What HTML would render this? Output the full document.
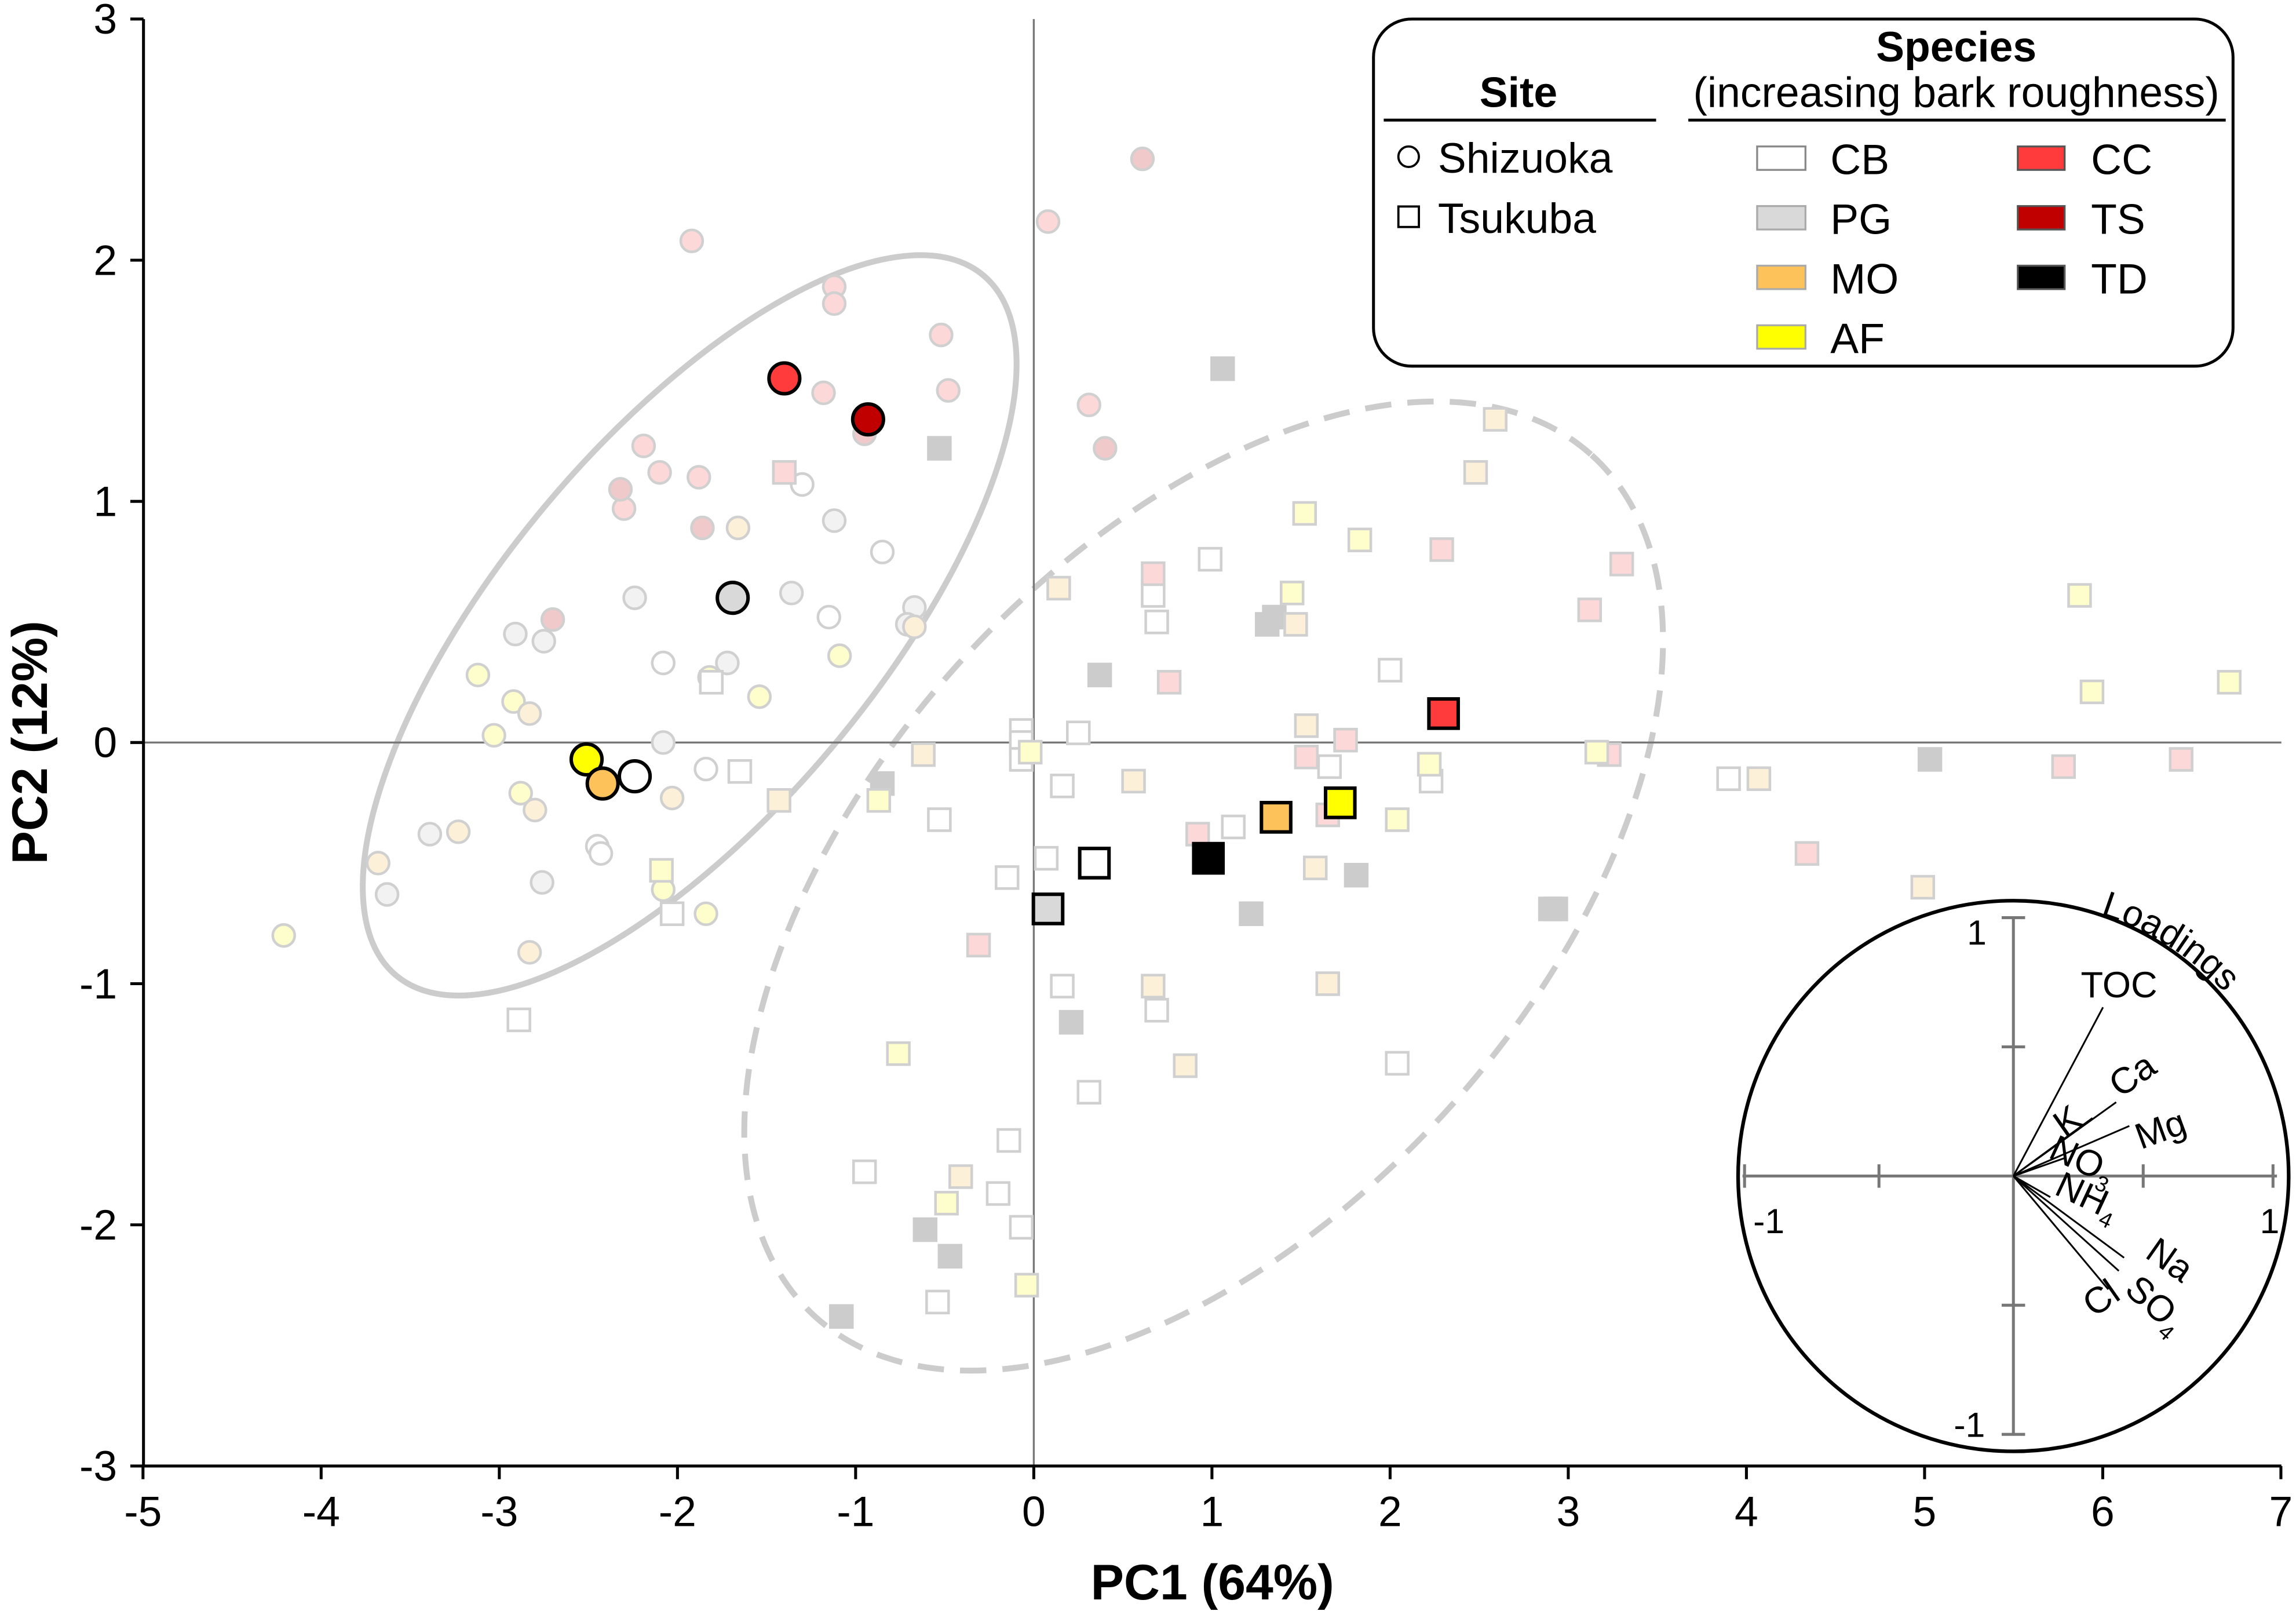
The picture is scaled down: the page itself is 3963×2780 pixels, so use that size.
<!DOCTYPE html>
<html><head><meta charset="utf-8"><style>
html,body{margin:0;padding:0;background:#fff}
svg{display:block;font-family:"Liberation Sans","DejaVu Sans",sans-serif}
</style></head><body>
<svg id="chart" width="3963" height="2780" viewBox="0 0 1568 1100" preserveAspectRatio="none" xmlns="http://www.w3.org/2000/svg">
<g id="bg"></g>
</svg>
<script>
const xTicks=[-5,-4,-3,-2,-1,0,1,2,3,4,5,6,7];
const yTicks=[-3,-2,-1,0,1,2,3];
// Shizuoka (circles) faded points: species, PC1, PC2
const circSpecies=["CC","CC","CC","CC","CC","CC","CC","CC","CC","CC","CC","CC",
"TS","TS","TS","TS","TS","TS",
"CB","PG","CB","PG","CB","PG","PG","PG","PG","CB","PG","PG","CB","PG","PG","PG","PG","CB","CB",
"AF","AF","AF","AF","AF","AF","AF","AF","AF","AF",
"MO","MO","MO","MO","MO","MO","MO","MO"];
const circX=[-1.92,-1.12,-1.12,-0.52,-0.48,-1.18,-2.19,-2.1,-1.88,-2.3,0.08,0.31,
0.61,0.4,-2.32,-1.86,-2.7,-0.95,
-1.3,-1.12,-0.85,-1.36,-1.15,-2.24,-2.91,-2.75,-1.72,-2.08,-0.67,-0.71,-1.84,-2.08,-3.39,-3.63,-2.76,-2.45,-2.43,
-3.12,-2.92,-3.03,-2.88,-1.82,-1.54,-1.09,-2.08,-1.84,-4.21,
-1.66,-2.83,-2.8,-3.23,-3.68,-2.03,-2.83,-0.67];
const circY=[2.08,1.89,1.82,1.69,1.46,1.45,1.23,1.12,1.1,0.97,2.16,1.4,
2.42,1.22,1.05,0.89,0.51,1.28,
1.07,0.92,0.79,0.62,0.52,0.6,0.45,0.42,0.33,0.33,0.56,0.49,-0.11,0.0,-0.38,-0.63,-0.58,-0.43,-0.46,
0.28,0.17,0.03,-0.21,0.27,0.19,0.36,-0.61,-0.71,-0.8,
0.89,0.12,-0.28,-0.37,-0.5,-0.23,-0.87,0.48];
// Tsukuba (squares) faded points
const sqSpecies=["PG","PG","PG","PG","PG","PG","PG","PG","PG","PG","PG","PG","PG","PG","PG",
"CB","CB","CB","CB","CB","CB","CB","CB","CB","CB","CB","CB","CB","CB","CB","CB","CB","CB","CB","CB","CB","CB","CB","CB","CB","CB","CB","CB","CB",
"CC","CC","CC","CC","CC","CC","CC","CC","CC","CC","CC","CC","CC","CC","CC",
"AF","AF","AF","AF","AF","AF","AF","AF","AF","AF","AF","AF","AF","AF","AF",
"MO","MO","MO","MO","MO","MO","MO","MO","MO","MO","MO","MO","MO","MO","MO"];
const sqX=[-0.53,1.06,1.31,1.35,0.37,-0.85,5.03,2.93,2.9,1.81,1.22,0.21,-0.61,-0.47,-1.08,
0.67,0.69,0.99,2.0,-0.07,-0.07,0.25,-0.07,1.66,2.23,-1.65,-0.53,0.16,0.07,1.12,-0.15,-1.81,-2.03,0.16,0.69,2.04,0.31,-2.89,-0.14,-0.2,-0.07,-0.95,-0.54,3.9,
-1.4,0.67,0.76,2.29,3.12,3.3,1.53,1.75,1.65,3.23,4.34,5.78,6.44,-0.31,0.92,
1.52,1.83,1.45,5.87,5.94,6.71,-0.02,-0.87,2.04,2.22,3.16,-2.09,-0.76,-0.49,-0.04,
2.59,2.48,0.14,1.47,1.53,-0.62,-1.43,0.56,1.58,1.65,0.67,0.85,-0.41,4.07,4.99];
const sqY=[1.22,1.55,0.49,0.52,0.28,-0.17,-0.07,-0.69,-0.69,-0.55,-0.71,-1.16,-2.02,-2.13,-2.38,
0.61,0.5,0.76,0.3,0.05,0.0,0.04,-0.07,-0.1,-0.16,-0.12,-0.32,-0.18,-0.48,-0.35,-0.56,0.25,-0.71,-1.01,-1.11,-1.33,-1.45,-1.15,-1.65,-1.87,-2.01,-1.78,-2.32,-0.15,
1.12,0.7,0.25,0.8,0.55,0.74,-0.06,0.01,-0.3,-0.05,-0.46,-0.1,-0.07,-0.84,-0.38,
0.95,0.84,0.62,0.61,0.21,0.25,-0.04,-0.24,-0.32,-0.09,-0.04,-0.53,-1.29,-1.91,-2.25,
1.34,1.12,0.64,0.49,0.07,-0.05,-0.24,-0.16,-0.52,-1.0,-1.01,-1.34,-1.8,-0.15,-0.6];
// Highlighted means
const meanCircSpecies=["PG","CB","AF","MO","CC","TS"];
const meanCircX=[-1.69,-2.24,-2.51,-2.42,-1.4,-0.93];
const meanCircY=[0.6,-0.14,-0.07,-0.17,1.51,1.34];
const meanSqSpecies=["PG","CB","TD","MO","AF","CC"];
const meanSqX=[0.08,0.34,0.98,1.36,1.72,2.3];
const meanSqY=[-0.69,-0.5,-0.48,-0.31,-0.25,0.12];
// Loadings
const loadNames=["TOC","Ca","K","Mg","NO3","NH4","Na","SO4","Cl"];
const loadX=[0.34,0.39,0.30,0.44,0.20,0.14,0.42,0.40,0.36];
const loadY=[0.64,0.28,0.22,0.19,0.07,-0.08,-0.31,-0.36,-0.43];

const full={CB:"#ffffff",PG:"#d9d9d9",MO:"#fdc35a",AF:"#ffff00",CC:"#ff3b3b",TS:"#c00000",TD:"#000000"};
const faded={CB:"#ffffff",PG:"#f2f2f2",MO:"#fdf0d9",AF:"#fefdcc",CC:"#fdd8d8",TS:"#f0caca",TD:"#cccccc"};
const fadedSq={CB:"#ffffff",PG:"#cccccc",MO:"#fdf0d9",AF:"#fefdcc",CC:"#fdd8d8",TS:"#f0caca",TD:"#cccccc"};

const NS="http://www.w3.org/2000/svg";
const svg=document.getElementById('chart');
const X=v=>706+v*121.67;
const Y=v=>507-v*164.67;
function mk(tag,attrs,parent){const e=document.createElementNS(NS,tag);for(const k in attrs)e.setAttribute(k,attrs[k]);(parent||svg).appendChild(e);return e;}
function txt(s,attrs,parent){const e=mk('text',attrs,parent);e.textContent=s;return e;}

// ellipses
let el=mk('ellipse',{cx:471,cy:427,rx:312,ry:128,transform:'rotate(-50 471 427)',fill:'none',stroke:'#cccccc','stroke-width':4});


el=mk('ellipse',{cx:822,cy:605,rx:396,ry:226,transform:'rotate(-48 822 605)',fill:'none',stroke:'#cccccc','stroke-width':4,'stroke-dasharray':'18 11'});



// zero lines
el=mk('line',{x1:X(0),y1:13,x2:X(0),y2:1001,stroke:'#777','stroke-width':1.3});


el=mk('line',{x1:98,y1:Y(0),x2:1558,y2:Y(0),stroke:'#777','stroke-width':1.3});



// faded points
circX.forEach((v,i)=>{const c=mk('circle',{cx:X(v),cy:Y(circY[i]),r:7.5,fill:faded[circSpecies[i]],stroke:'#d0d0d0','stroke-width':1.8});

});
sqX.forEach((v,i)=>{const s=15;const r=mk('rect',{x:X(v)-s/2,y:Y(sqY[i])-s/2,width:s,height:s,fill:fadedSq[sqSpecies[i]],stroke:sqSpecies[i]==='PG'?'#cccccc':'#d0d0d0','stroke-width':1.8});

});
// means
meanSqX.forEach((v,i)=>{const s=20;const r=mk('rect',{x:X(v)-s/2,y:Y(meanSqY[i])-s/2,width:s,height:s,fill:full[meanSqSpecies[i]],stroke:'#000','stroke-width':2.4});

});
meanCircX.forEach((v,i)=>{const c=mk('circle',{cx:X(v),cy:Y(meanCircY[i]),r:10.5,fill:full[meanCircSpecies[i]],stroke:'#000','stroke-width':2.4});

});

// axes
el=mk('line',{x1:98,y1:13,x2:98,y2:1001,stroke:'#000','stroke-width':2});


el=mk('line',{x1:97,y1:1001,x2:1558,y2:1001,stroke:'#000','stroke-width':2});


xTicks.forEach(t=>{mk('line',{x1:X(t),y1:1001,x2:X(t),y2:1010,stroke:'#000','stroke-width':2});
const l=txt(String(t),{x:X(t),y:1042,'font-size':29,'text-anchor':'middle'});

});
yTicks.forEach(t=>{mk('line',{x1:89,y1:Y(t),x2:98,y2:Y(t),stroke:'#000','stroke-width':2});
const l=txt(String(t),{x:80,y:Y(t)+10,'font-size':29,'text-anchor':'end'});

});
el=txt('PC1 (64%)',{x:828,y:1092,'font-size':34,'font-weight':'bold','text-anchor':'middle'});


el=txt('PC2 (12%)',{x:0,y:0,'font-size':34,'font-weight':'bold','text-anchor':'middle',transform:'translate(32 507) rotate(-90)'});



// legend
const lg=mk('g',{});


mk('rect',{x:938,y:13,width:587,height:237,rx:26,fill:'#fff',stroke:'#000','stroke-width':2},lg);
txt('Site',{x:1037,y:73,'font-size':29,'font-weight':'bold','text-anchor':'middle'},lg);
mk('line',{x1:945,y1:82,x2:1131,y2:82,stroke:'#000','stroke-width':2},lg);
txt('Species',{x:1336,y:42,'font-size':29,'font-weight':'bold','text-anchor':'middle'},lg);
txt('(increasing bark roughness)',{x:1336,y:73,'font-size':29,'text-anchor':'middle'},lg);
mk('line',{x1:1153,y1:82,x2:1520,y2:82,stroke:'#000','stroke-width':2},lg);
mk('circle',{cx:962,cy:107,r:7,fill:'#fff',stroke:'#000','stroke-width':1.5},lg);
txt('Shizuoka',{x:982,y:118,'font-size':29},lg);
mk('rect',{x:955,y:141,width:14,height:14,fill:'#fff',stroke:'#000','stroke-width':1.5},lg);
txt('Tsukuba',{x:982,y:159,'font-size':29},lg);
const legL=["CB","PG","MO","AF"],legR=["CC","TS","TD"];
legL.forEach((s,i)=>{const y=100+i*40.7;const r=mk('rect',{x:1200,y:y,width:33,height:16,fill:full[s],stroke:s==='CB'?'#888':'#aaa','stroke-width':1.3},lg);


txt(s,{x:1250,y:y+19,'font-size':29},lg);});
legR.forEach((s,i)=>{const y=100+i*40.7;const r=mk('rect',{x:1378,y:y,width:32,height:16,fill:full[s],stroke:'#555','stroke-width':1.3},lg);


txt(s,{x:1428,y:y+19,'font-size':29},lg);});

// loadings inset
const ig=mk('g',{});


const cx=1375,cy=803,U=180,R=188;
mk('circle',{cx:cx,cy:cy,r:R,fill:'#fff',stroke:'#000','stroke-width':2.5},ig);
mk('line',{x1:cx-U-5,y1:cy,x2:cx+U,y2:cy,stroke:'#777','stroke-width':2},ig);
mk('line',{x1:cx,y1:cy-U+4,x2:cx,y2:cy+U-3,stroke:'#777','stroke-width':2},ig);
[-1,-0.5,0.5,1].forEach(t=>{
 mk('line',{x1:cx+t*U*(t<0?1.02:0.985),y1:cy-8,x2:cx+t*U*(t<0?1.02:0.985),y2:cy+8,stroke:'#777','stroke-width':2},ig);
 mk('line',{x1:cx-8,y1:cy-t*U*0.98,x2:cx+8,y2:cy-t*U*0.98,stroke:'#777','stroke-width':2},ig);});
txt('1',{x:1350,y:645,'font-size':24,'text-anchor':'middle'},ig);
txt('-1',{x:1345,y:981,'font-size':24,'text-anchor':'middle'},ig);
txt('-1',{x:1208,y:842,'font-size':24,'text-anchor':'middle'},ig);
txt('1',{x:1550,y:842,'font-size':24,'text-anchor':'middle'},ig);
loadX.forEach((v,i)=>{const l=mk('line',{x1:cx,y1:cy,x2:cx+v*U,y2:cy-loadY[i]*U,stroke:'#000','stroke-width':1.2},ig);

});
function lab(html,x,y,rot){const t=mk('text',{x:0,y:0,'font-size':25,transform:`translate(${x} ${y}) rotate(${rot})`},ig);t.innerHTML=html;return t;}
lab('TOC',1421,681,0);
lab('Ca',1448,750,-35);
lab('K',1410,777,-35);
lab('Mg',1462,785,-20);
lab('NO<tspan font-size="15" dy="6">3</tspan>',1398,790,25);
lab('NH<tspan font-size="15" dy="6">4</tspan>',1402,815,25);
lab('Na',1464,858,35);
lab('SO<tspan font-size="15" dy="6">4</tspan>',1450,882,42);
lab('Cl',1430,900,-35);
mk('path',{id:'loadArc',d:`M ${cx+R*Math.cos(-1.25)} ${cy+R*Math.sin(-1.25)} A ${R+6} ${R+6} 0 0 1 ${cx+(R+6)*Math.cos(-0.3)} ${cy+(R+6)*Math.sin(-0.3)}`,fill:'none'},ig);
const lt=mk('text',{'font-size':25},ig);
lt.innerHTML='<textPath href="#loadArc">Loadings</textPath>';
</script>
</body></html>
